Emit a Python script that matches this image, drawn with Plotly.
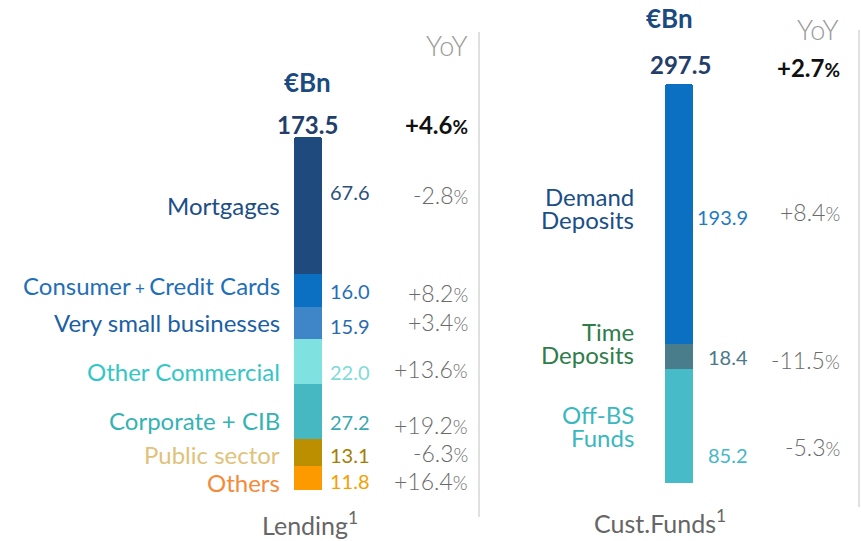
import plotly.graph_objects as go

# ---------------- data ----------------
lending_labels = ["Mortgages", "Consumer + Credit Cards", "Very small businesses",
                  "Other Commercial", "Corporate + CIB", "Public sector", "Others"]
lending_values = [67.6, 16.0, 15.9, 22.0, 27.2, 13.1, 11.8]
lending_yoy = ["-2.8", "+8.2", "+3.4", "+13.6", "+19.2", "-6.3", "+16.4"]
lending_total = "173.5"
lending_total_yoy = "+4.6"

funds_labels = [["Demand", "Deposits"], ["Time", "Deposits"], ["Off-BS", "Funds"]]
funds_values = [193.9, 18.4, 85.2]
funds_yoy = ["+8.4", "-11.5", "-5.3"]
funds_total = "297.5"
funds_total_yoy = "+2.7"

# ---------------- styles ----------------
W, H = 861, 541
FONT = "Lato"
lend_bar_colors = ["#1f4a7e", "#0b6fc2", "#3f86c8", "#80e2e0", "#45b8c2", "#bc8f00", "#fd9a00"]
lend_name_colors = ["#1b4e86", "#1f6fb8", "#1b5fa6", "#33c6c6", "#35b3b3", "#e0c27a", "#f58a3a"]
lend_val_colors = ["#2c4f7c", "#1f6fb8", "#2b6aad", "#7fdada", "#3aa8b0", "#a67c00", "#f5a000"]
lend_name_dy = [0, 5, 1, -10, -9, -2, -4]
lend_val_dy = [14, 0, -3, -10, -10, -2, -3]
lend_yoy_dy = [11, -2, 1, -7, -13, 0, -3]

fund_bar_colors = ["#0b6fc2", "#4a7d8c", "#47bcc8"]
fund_name_colors = ["#1b4e86", "#2e7d4a", "#3ab8c0"]
fund_val_colors = ["#1f7ac0", "#4a7a8a", "#45b8c8"]
fund_name_dy = [6, 13, 0]
fund_val_dy = [-3, -1, -29]
fund_yoy_dy = [2, -4, -21]
LINE_GAP = 23

GRAY = "#6a6a6a"
NAME_SIZE = 24
VAL_SIZE = 20
YOY_SIZE = 23
PCT_SIZE = 19


def px(x):
    return x / W


def py(y):
    return 1 - y / H


fig = go.Figure()

# stacked bars, bottom segment first
for i in reversed(range(len(lending_values))):
    fig.add_trace(go.Bar(x=[0], y=[lending_values[i]], marker=dict(color=lend_bar_colors[i], line=dict(width=0)),
                         width=1, xaxis="x", yaxis="y", hoverinfo="skip", showlegend=False))
for i in reversed(range(len(funds_values))):
    fig.add_trace(go.Bar(x=[0], y=[funds_values[i]], marker=dict(color=fund_bar_colors[i], line=dict(width=0)),
                         width=1, xaxis="x2", yaxis="y2", hoverinfo="skip", showlegend=False))

lend_sum = sum(lending_values)
fund_sum = sum(funds_values)

ann = []


def A(text, x, y, size, color, xanchor="center", weight=400):
    ann.append(dict(text=text, x=x, y=y, xref="paper", yref="paper", xanchor=xanchor, yanchor="middle",
                    showarrow=False, font=dict(family=FONT, size=size, color=color, weight=weight)))


def pct(v, size):
    return f"{v}<span style='font-size:{size}px'>%</span>"


# lending segment labels
cum = 0
centers = []
for i in reversed(range(len(lending_values))):
    centers.append((i, cum + lending_values[i] / 2))
    cum += lending_values[i]
for i, c in centers:
    name = lending_labels[i]
    if name == "Consumer + Credit Cards":
        name = "Consumer<span style='font-size:17px'> + </span>Credit Cards"
    ann.append(dict(text=name, x=px(282), y=c, xref="paper", yref="y", xanchor="right", yanchor="middle",
                    showarrow=False, yshift=lend_name_dy[i],
                    font=dict(family=FONT, size=NAME_SIZE, color=lend_name_colors[i])))
    ann.append(dict(text=f"{lending_values[i]:.1f}", x=px(328), y=c, xref="paper", yref="y", xanchor="left",
                    yanchor="middle", showarrow=False, yshift=lend_val_dy[i],
                    font=dict(family=FONT, size=VAL_SIZE, color=lend_val_colors[i])))
    ann.append(dict(text=pct(lending_yoy[i], PCT_SIZE), x=px(470), y=c, xref="paper", yref="y", xanchor="right",
                    yanchor="middle", showarrow=False, yshift=lend_yoy_dy[i],
                    font=dict(family=FONT, size=YOY_SIZE, color=GRAY, weight=300)))

cum = 0
centers = []
for i in reversed(range(len(funds_values))):
    centers.append((i, cum + funds_values[i] / 2))
    cum += funds_values[i]
for i, c in centers:
    lines = funds_labels[i]
    for k, line in enumerate(lines):
        off = (len(lines) - 1) / 2 - k
        ann.append(dict(text=line, x=px(636), y=c, xref="paper", yref="y2", xanchor="right",
                        yanchor="middle", showarrow=False, yshift=fund_name_dy[i] + off * LINE_GAP,
                        font=dict(family=FONT, size=NAME_SIZE, color=fund_name_colors[i])))
    ann.append(dict(text=f"{funds_values[i]:.1f}", x=px(750), y=c, xref="paper", yref="y2", xanchor="right",
                    yanchor="middle", showarrow=False, yshift=fund_val_dy[i],
                    font=dict(family=FONT, size=VAL_SIZE, color=fund_val_colors[i])))
    ann.append(dict(text=pct(funds_yoy[i], PCT_SIZE), x=px(842), y=c, xref="paper", yref="y2", xanchor="right",
                    yanchor="middle", showarrow=False, yshift=fund_yoy_dy[i],
                    font=dict(family=FONT, size=YOY_SIZE, color=GRAY, weight=300)))

# headers
A("<b>€Bn</b>", px(307), py(82), 26, "#1a4a80")
A("<b>€Bn</b>", px(669), py(18), 26, "#1a4a80")
A("YoY", px(447), py(46), 27, "#9a9a9a", weight=300)
A("YoY", px(818), py(29), 27, "#9a9a9a", weight=300)
A(f"<b>{lending_total}</b>", px(307), py(124), 24, "#233e6b")
A(f"<b>{funds_total}</b>", px(680), py(65), 24, "#233e6b")
A("<b>" + pct(lending_total_yoy, 19) + "</b>", px(470), py(124), 24, "#111111", xanchor="right")
A("<b>" + pct(funds_total_yoy, 19) + "</b>", px(842), py(67), 24, "#111111", xanchor="right")
A("Lending<sup>1</sup>", px(310), py(523), 25, "#666666")
A("Cust.Funds<sup>1</sup>", px(660), py(521), 25, "#666666")

shapes = [
    dict(type="line", xref="paper", yref="paper", x0=px(479), x1=px(479), y0=py(32), y1=py(517),
         line=dict(color="#d6d6d6", width=1.5)),
    dict(type="line", xref="paper", yref="paper", x0=px(859), x1=px(859), y0=py(30), y1=py(507),
         line=dict(color="#d6d6d6", width=1.5)),
]

fig.update_layout(
    width=W, height=H, margin=dict(l=0, r=0, t=0, b=0),
    paper_bgcolor="white", plot_bgcolor="white",
    barmode="stack", barcornerradius=3, showlegend=False,
    xaxis=dict(domain=[px(280), px(336)], range=[-1, 1], visible=False, fixedrange=True),
    yaxis=dict(domain=[py(490), py(137)], range=[0, lend_sum], visible=False, fixedrange=True),
    xaxis2=dict(domain=[px(651), px(707)], range=[-1, 1], visible=False, fixedrange=True, anchor="y2"),
    yaxis2=dict(domain=[py(483), py(84)], range=[0, fund_sum], visible=False, fixedrange=True, anchor="x2"),
    annotations=ann, shapes=shapes,
)

fig.write_html("out.html", config={"displayModeBar": False},
               post_script="document.body.style.margin='0';document.body.style.overflow='hidden';")
